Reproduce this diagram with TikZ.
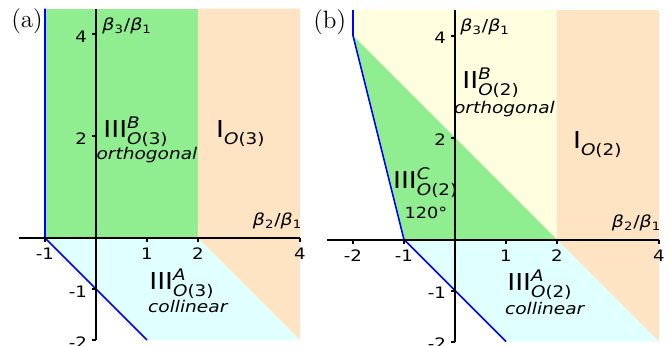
\documentclass[tikz,border=0pt]{standalone}
\usepackage{fontspec}
\newfontfamily\dejavu{DejaVu Sans}[FakeStretch=1.15]
\definecolor{cgreen}{RGB}{144,238,144}
\definecolor{cpeach}{RGB}{255,228,196}
\definecolor{ccyan}{RGB}{224,255,255}
\definecolor{cyellow}{RGB}{255,255,224}
\newcommand\phaselab[3]{{\fontsize{13}{14}\selectfont #1}\rlap{\raisebox{5pt}{\fontsize{8.9}{10}\selectfont\itshape #2}}\raisebox{-3.9pt}{\fontsize{8.9}{10}\selectfont\itshape O\upshape(#3)}}
\newcommand\ratio[2]{\textit{β}\textsubscript{#1}/\textit{β}\textsubscript{#2}}
\tikzset{
  axisline/.style={line width=1.1pt, black},
  bluel/.style={line width=0.9pt, blue, line join=miter},
  ticklab/.style={font=\dejavu\fontsize{8.8}{11}\selectfont, inner sep=0pt},
  lab/.style={font=\dejavu, inner sep=0pt, anchor=base west},
  desc/.style={font=\dejavu\fontsize{9.0}{11}\selectfont\itshape, inner sep=0pt, anchor=base},
  axlab/.style={font=\dejavu\fontsize{9.2}{11}\selectfont, inner sep=0pt},
  panel/.style={font=\fontsize{14}{15}\selectfont, inner sep=0pt, anchor=base west}
}
\begin{document}
\begin{tikzpicture}
\useasboundingbox (-1.882,-2.098) rectangle (11.255,4.667);
% ---------- panel (a) ----------
\begin{scope}
\fill[cgreen] (-1,0) rectangle (2,4.5);
\fill[cpeach] (2,0) -- (2,4.5) -- (4,4.5) -- (4,-2) -- cycle;
\fill[ccyan] (-1,0) -- (2,0) -- (4,-2) -- (1,-2) -- cycle;
\draw[bluel] (-1,4.5) -- (-1,0) -- (1,-2);
\draw[axisline] (-1.5,0) -- (4,0);
\draw[axisline] (0,-2) -- (0,4.5);
\foreach \x in {-1,1,2,4} \draw[axisline] (\x,0) -- (\x,-0.08);
\foreach \y in {-2,-1,2,4} \draw[axisline] (0,\y) -- (-0.08,\y);
\foreach \x/\t in {-1/-1,1/1,2/2,4/4} \node[ticklab, anchor=base] (ax\x) at (\x,-0.43) {\t};
\foreach \y/\t in {-2/-2,-1/-1,2/2,4/4} \node[ticklab, anchor=base east] (ay\y) at (-0.17,\y-0.16) {\t};
\node[axlab, anchor=base west] (ayl) at (0.12,4.06) {\ratio{3}{1}};
\node[axlab, anchor=base east] (axl) at (4.05,0.24) {\ratio{2}{1}};
\node[panel] (pa) at (-1.667,4.118) {(a)};
\node[lab] (a3b) at (0.14,1.98) {\phaselab{III}{B}{3}};
\node[desc] (a3bd) at (1.0,1.53) {orthogonal};
\node[lab] (a1) at (2.35,1.98) {\phaselab{I}{}{3}};
\node[lab] (a3a) at (1.04,-1.0) {\phaselab{III}{A}{3}};
\node[desc] (a3ad) at (1.8,-1.47) {collinear};
\end{scope}
% ---------- panel (b) ----------
\begin{scope}[shift={(7.039,-0.03)}]
\fill[cyellow] (-2,4) -- (-2,4.5) -- (2,4.5) -- (2,0) -- cycle;
\fill[cgreen] (-2,4) -- (2,0) -- (-1,0) -- cycle;
\fill[cpeach] (2,0) -- (2,4.5) -- (4,4.5) -- (4,-2) -- cycle;
\fill[ccyan] (-1,0) -- (2,0) -- (4,-2) -- (1,-2) -- cycle;
\draw[bluel] (-2,4.5) -- (-2,4) -- (-1,0) -- (1,-2);
\draw[axisline] (-2.5,0) -- (4,0);
\draw[axisline] (0,-2) -- (0,4.5);
\foreach \x in {-2,-1,1,2,4} \draw[axisline] (\x,0) -- (\x,-0.08);
\foreach \y in {-2,-1,2,4} \draw[axisline] (0,\y) -- (-0.08,\y);
\foreach \x/\t in {-2/-2,-1/-1,1/1,2/2,4/4} \node[ticklab, anchor=base] (bx\x) at (\x,-0.43) {\t};
\foreach \y/\t in {-2/-2,-1/-1,2/2,4/4} \node[ticklab, anchor=base east] (by\y) at (-0.17,\y-0.16) {\t};
\node[axlab, anchor=base west] (byl) at (0.1,4.07) {\ratio{3}{1}};
\node[axlab, anchor=base east] (bxl) at (4.05,0.24) {\ratio{2}{1}};
\node[panel] (pb) at (-2.784,4.147) {(b)};
\node[lab] (b2b) at (0.14,2.96) {\phaselab{II}{B}{2}};
\node[desc] (b2bd) at (0.97,2.47) {orthogonal};
\node[lab] (b1) at (2.31,1.78) {\phaselab{I}{}{2}};
\node[lab] (b3c) at (-1.22,1.0) {\phaselab{III}{C}{2}};
\node[font=\dejavu\fontsize{8.6}{11}\selectfont, inner sep=0pt, anchor=base] (b120) at (-0.57,0.41) {120°};
\node[lab] (b3a) at (1.02,-1.0) {\phaselab{III}{A}{2}};
\node[desc] (b3ad) at (1.76,-1.47) {collinear};
\end{scope}
\end{tikzpicture}
\end{document}
